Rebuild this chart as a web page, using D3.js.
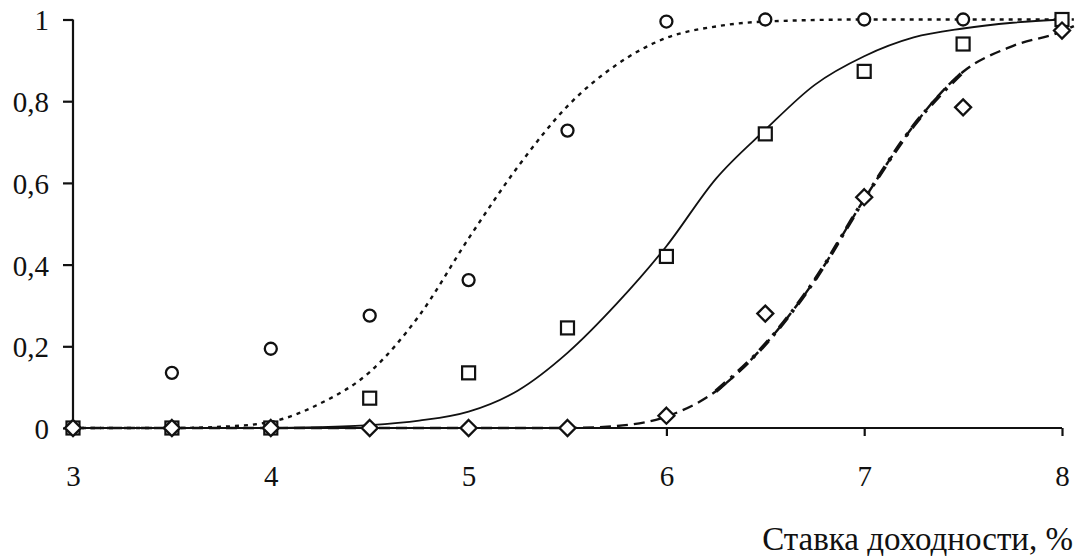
<!DOCTYPE html>
<html>
<head>
<meta charset="utf-8">
<script src="https://cdn.jsdelivr.net/npm/d3@7/dist/d3.min.js"></script>
<style>
  html, body { margin: 0; padding: 0; background: #fff; }
  svg { display: block; }
</style>
</head>
<body>
<svg id="chart" width="1082" height="556"></svg>
<script>
// ---- data ----
const xTicks = [3, 4, 5, 6, 7, 8];
const yTicks = [0, 0.2, 0.4, 0.6, 0.8, 1];
const yTickLabels = ["0", "0,2", "0,4", "0,6", "0,8", "1"];
const xTitle = "Ставка доходности, %";

const obsX = [3, 3.5, 4, 4.5, 5, 5.5, 6, 6.5, 7, 7.5, 8];
const circleVals  = [0, 0.135, 0.194, 0.275, 0.362, 0.728, 0.995, 1.0, 1.0, 1.0, 1.0];
const squareVals  = [0, 0, 0, 0.073, 0.135, 0.245, 0.42, 0.72, 0.873, 0.94, 1.0];
const diamondVals = [0, 0, 0, 0, 0, 0, 0.03, 0.28, 0.565, 0.785, 0.973];

const dottedX = [3, 3.5, 3.75, 4, 4.25, 4.5, 4.75, 5, 5.25, 5.5, 5.75, 6, 6.25, 6.5, 7, 7.5, 8, 8.06];
const dottedY = [0, 0, 0.003, 0.015, 0.06, 0.137, 0.275, 0.464, 0.64, 0.788, 0.89, 0.955, 0.983, 0.995, 1, 1, 1, 1];

const solidX = [3, 3.5, 4, 4.25, 4.5, 4.75, 5, 5.25, 5.5, 5.75, 6, 6.25, 6.5, 6.75, 7, 7.25, 7.5, 7.75, 8];
const solidY = [0, 0, 0, 0.002, 0.007, 0.018, 0.04, 0.092, 0.184, 0.305, 0.445, 0.61, 0.73, 0.84, 0.91, 0.956, 0.978, 0.992, 1.0];

const dashX = [3, 3.5, 4, 4.5, 5, 5.5, 5.75, 6, 6.25, 6.5, 6.75, 7, 7.25, 7.5, 7.75, 8, 8.06];
const dashY = [0, 0, 0, 0, 0, 0, 0.005, 0.028, 0.09, 0.205, 0.362, 0.56, 0.74, 0.872, 0.935, 0.971, 0.984];

// ---- pick an installed Times-like serif font ----
function pickFont(cands) {
  const ctx = document.createElement("canvas").getContext("2d");
  const sample = "Ставка доходности 0,8 12345 mmwwiil";
  const widthOf = f => { ctx.font = "40px " + f; return ctx.measureText(sample).width; };
  for (const c of cands) {
    const a = widthOf(`"${c}", monospace`), b = widthOf("monospace");
    const a2 = widthOf(`"${c}", sans-serif`), b2 = widthOf("sans-serif");
    if (a !== b || a2 !== b2) return `"${c}"`;
  }
  return "serif";
}
const FONT = pickFont(["Liberation Serif", "Times New Roman", "Tinos", "DejaVu Serif", "Noto Serif"]) + ", serif";

// ---- layout ----
const svg = d3.select("#chart");
const x = d3.scaleLinear().domain([3, 8]).range([73, 1062]);
const y = d3.scaleLinear().domain([0, 1]).range([428, 19.5]);

const zip = (xs, ys) => xs.map((v, i) => [v, ys[i]]);
const line = d3.line().x(d => x(d[0])).y(d => y(d[1])).curve(d3.curveMonotoneX);

// ---- axes ----
const yAxis = d3.axisLeft(y).tickValues(yTicks)
  .tickFormat((d, i) => yTickLabels[i]).tickSize(10).tickPadding(14);
const gy = svg.append("g").attr("transform", `translate(${x(3)},0)`).call(yAxis);

const xAxis = d3.axisBottom(x).tickValues(xTicks).tickFormat(d3.format("d")).tickSize(8).tickPadding(0);
const gx = svg.append("g").attr("transform", `translate(0,${y(0)})`).call(xAxis);

[gx, gy].forEach(g => {
  g.attr("font-family", FONT);
  g.select(".domain").attr("stroke", "#111").attr("stroke-width", 2.2);
  g.selectAll(".tick line").attr("stroke", "#111").attr("stroke-width", 2.2);
  g.selectAll(".tick text").style("font-family", FONT).attr("font-size", 29).attr("fill", "#111");
});
gx.select(".domain").attr("d", `M${x(3)},0H${x(8)}`);
gy.select(".domain").attr("d", `M0,${y(1)}V${y(0)}`);
gy.selectAll(".tick text").attr("dy", "0.36em");
gx.selectAll(".tick text").attr("y", 58).attr("dy", 0);

svg.append("text")
  .attr("x", 1073).attr("y", 550)
  .attr("text-anchor", "end")
  .style("font-family", FONT)
  .attr("font-size", 33)
  .attr("fill", "#111")
  .text(xTitle);

// ---- fitted curves ----
svg.append("path").datum(zip(dottedX, dottedY))
  .attr("d", line).attr("fill", "none").attr("stroke", "#111")
  .attr("stroke-width", 2.4).attr("stroke-dasharray", "4,5");

svg.append("path").datum(zip(solidX, solidY))
  .attr("d", line).attr("fill", "none").attr("stroke", "#111")
  .attr("stroke-width", 1.8);

svg.append("path").datum(zip(dashX, dashY))
  .attr("d", line).attr("fill", "none").attr("stroke", "#111")
  .attr("stroke-width", 2.4).attr("stroke-dasharray", "11,6");

svg.append("path").datum(zip(dashX, dashY).filter(d => d[0] >= 6.25 && d[0] <= 7.5))
  .attr("d", line).attr("fill", "none").attr("stroke", "#111")
  .attr("stroke-width", 3.8).attr("stroke-dasharray", "13,7,3,7");

// ---- observed markers ----
svg.append("g").selectAll("circle").data(zip(obsX, circleVals)).join("circle")
  .attr("cx", d => x(d[0])).attr("cy", d => y(d[1])).attr("r", 6)
  .attr("fill", "#fff").attr("stroke", "#111").attr("stroke-width", 2.3);

svg.append("g").selectAll("rect").data(zip(obsX, squareVals)).join("rect")
  .attr("x", d => x(d[0]) - 6.5).attr("y", d => y(d[1]) - 6.5)
  .attr("width", 13).attr("height", 13)
  .attr("fill", "#fff").attr("stroke", "#111").attr("stroke-width", 2.2);

const dsz = 8;
svg.append("g").selectAll("path").data(zip(obsX, diamondVals)).join("path")
  .attr("d", d => {
    const cx = x(d[0]), cy = y(d[1]);
    return `M${cx},${cy - dsz}L${cx + dsz},${cy}L${cx},${cy + dsz}L${cx - dsz},${cy}Z`;
  })
  .attr("fill", "#fff").attr("stroke", "#111").attr("stroke-width", 2.3);
</script>
</body>
</html>
